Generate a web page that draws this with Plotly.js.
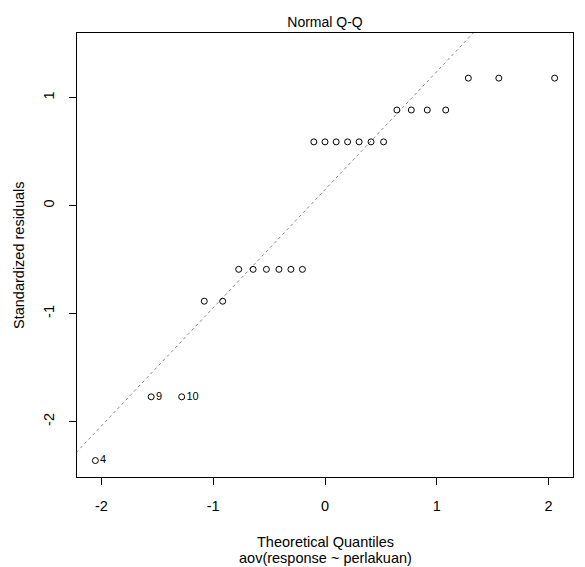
<!DOCTYPE html>
<html>
<head>
<meta charset="utf-8">
<script src="https://cdn.plot.ly/plotly-3.0.1.min.js"></script>
<style>html,body{margin:0;padding:0;background:#fff;}#chart{width:585px;height:567px;}</style>
</head>
<body>
<div id="chart"></div>
<script>
// Theoretical quantiles (x) and standardized residuals (y)
const theoretical = [-2.054, -1.555, -1.282, -1.080, -0.915,
  -0.772, -0.643, -0.524, -0.412, -0.305, -0.202,
  -0.100, 0.000, 0.100, 0.202, 0.305, 0.412, 0.524,
  0.643, 0.772, 0.915, 1.080,
  1.282, 1.555, 2.054];
const residuals = [-2.36, -1.77, -1.77, -0.885, -0.885,
  -0.59, -0.59, -0.59, -0.59, -0.59, -0.59,
  0.59, 0.59, 0.59, 0.59, 0.59, 0.59, 0.59,
  0.885, 0.885, 0.885, 0.885,
  1.18, 1.18, 1.18];
const pointLabels = ["4", "9", "10", "", "", "", "", "", "", "", "", "", "", "", "", "", "", "", "", "", "", "", "", "", ""];
const xTicks = [-2, -1, 0, 1, 2];
const yTicks = [-2, -1, 0, 1];

// qqline: through first and third quartiles
function quantile7(arr, p) {
  const s = arr.slice().sort((a, b) => a - b);
  const h = (s.length - 1) * p;
  const lo = Math.floor(h);
  return s[lo] + (h - lo) * ((s[lo + 1] !== undefined ? s[lo + 1] : s[lo]) - s[lo]);
}
const zq = 0.6744898;
const q1 = quantile7(residuals, 0.25), q3 = quantile7(residuals, 0.75);
const slope = (q3 - q1) / (2 * zq);
const intercept = q1 + zq * slope;
const lineX = [-3, 3];
const lineY = lineX.map(v => intercept + slope * v);

// R-style axis ranges
const xmin = Math.min(...theoretical), xmax = Math.max(...theoretical);
const xext = (xmax - xmin) * 0.04;
let ylo = Math.min(...residuals), yhi = Math.max(...residuals);
yhi = yhi + (yhi - ylo) * 0.075;
const yext = (yhi - ylo) * 0.04;

const fam = "Liberation Sans, Arial, sans-serif";
const font = {family: fam, size: 14.5, color: "#000"};

const traces = [
  {
    x: lineX, y: lineY, mode: "lines", type: "scatter",
    line: {color: "#888", width: 1, dash: "dot"}, hoverinfo: "skip", showlegend: false
  },
  {
    x: theoretical, y: residuals, mode: "markers+text", type: "scatter",
    text: pointLabels, textposition: "middle right",
    textfont: {family: fam, size: 11, color: "#000"},
    marker: {symbol: "circle-open", size: 6, color: "#000", line: {width: 1, color: "#000"}},
    showlegend: false, cliponaxis: false
  }
];

const layout = {
  width: 585, height: 567,
  margin: {l: 77, r: 12, t: 33, b: 90},
  paper_bgcolor: "#fff", plot_bgcolor: "#fff",
  font: font,
  showlegend: false,
  title: {text: "Normal Q-Q", x: 0.5, xref: "paper", y: 1, yref: "paper", yanchor: "bottom", pad: {b: 6},
    font: {family: fam, size: 14, color: "#000"}},
  xaxis: {
    range: [xmin - xext, xmax + xext], tickvals: xTicks, ticktext: xTicks.map(String),
    showgrid: false, zeroline: false, showline: true, mirror: true, linecolor: "#000", linewidth: 1,
    ticks: "outside", ticklen: 7, tickcolor: "#000", tickwidth: 1, ticklabelstandoff: 9,
    tickfont: font, automargin: false
  },
  yaxis: {
    range: [ylo - yext, yhi + yext], tickvals: yTicks, ticktext: yTicks.map(String),
    showgrid: false, zeroline: false, showline: true, mirror: true, linecolor: "#000", linewidth: 1,
    ticks: "outside", ticklen: 7, tickcolor: "#000", tickwidth: 1, tickangle: -90, ticklabelstandoff: 9,
    tickfont: font, automargin: false
  },
  annotations: [
    {text: "Standardized residuals", xref: "paper", yref: "paper", x: -0.117, y: 0.5,
     xanchor: "center", yanchor: "middle", textangle: -90, showarrow: false, font: font},
    {text: "Theoretical Quantiles", xref: "paper", yref: "paper", x: 0.5, y: -0.147,
     xanchor: "center", yanchor: "middle", showarrow: false, font: font},
    {text: "aov(response ~ perlakuan)", xref: "paper", yref: "paper", x: 0.5, y: -0.183,
     xanchor: "center", yanchor: "middle", showarrow: false, font: font}
  ]
};

Plotly.newPlot("chart", traces, layout, {displayModeBar: false, staticPlot: true});
</script>
</body>
</html>
